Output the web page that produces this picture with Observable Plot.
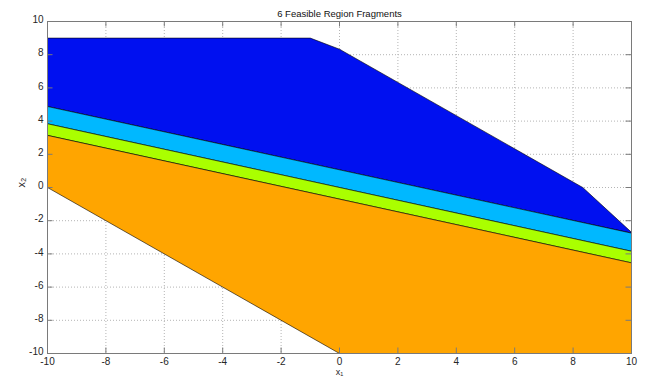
<!DOCTYPE html>
<html>
<head>
<meta charset="utf-8">
<script src="https://cdn.jsdelivr.net/npm/d3@7"></script>
<script src="https://cdn.jsdelivr.net/npm/@observablehq/plot@0.6"></script>
<style>
  html, body { margin: 0; padding: 0; background: #fff; }
  #chart svg { display: block; }
</style>
</head>
<body>
<div id="chart"></div>
<script>
// ---- data ----
const titleText = "6 Feasible Region Fragments";
const xTicks = [-10, -8, -6, -4, -2, 0, 2, 4, 6, 8, 10];
const yTicks = [-10, -8, -6, -4, -2, 0, 2, 4, 6, 8, 10];

// polygon vertices [x1, x2]
const regionBlue   = [[-10, 9], [-1, 9], [0, 8.33], [8.33, 0], [10, -2.7], [10, -2.75], [-10, 4.88], [-10, 9]];
const regionCyan   = [[-10, 4.88], [10, -2.75], [10, -3.84], [-10, 3.84], [-10, 4.88]];
const regionGreen  = [[-10, 3.84], [10, -3.84], [10, -4.54], [-10, 3.14], [-10, 3.84]];
const regionOrange = [[-10, 3.14], [10, -4.54], [10, -10], [0, -10], [-10, 0], [-10, 3.14]];

const regions = [regionBlue, regionCyan, regionGreen, regionOrange];
const regionColors = ["#0010f0", "#00b8ff", "#aaff00", "#ffa500"];

// ---- layout ----
const W = 655, H = 378;
const mL = 47, mR = 24, mT = 21, mB = 25;
const frameH = H - mT - mB, frameW = W - mL - mR;
const tickLen = 5.5;
const axisGray = "#7a7a7a";
const textColor = "#262626";

const marks = [
  Plot.gridX(xTicks, {stroke: "#b4b4b4", strokeOpacity: 1, strokeDasharray: "1,2", strokeWidth: 1}),
  Plot.gridY(yTicks, {stroke: "#b4b4b4", strokeOpacity: 1, strokeDasharray: "1,2", strokeWidth: 1}),
  ...regions.map((r, i) => Plot.line(r, {fill: regionColors[i], stroke: "#000", strokeWidth: 0.6, strokeLinejoin: "miter"})),
  // inward ticks on all four sides
  Plot.tickX(xTicks, {x: d => d, insetTop: frameH - tickLen, stroke: axisGray}),
  Plot.tickX(xTicks, {x: d => d, insetBottom: frameH - tickLen, stroke: axisGray}),
  Plot.tickY(yTicks, {y: d => d, insetRight: frameW - tickLen, stroke: axisGray}),
  Plot.tickY(yTicks, {y: d => d, insetLeft: frameW - tickLen, stroke: axisGray}),
  Plot.frame({stroke: axisGray, strokeWidth: 1}),
  Plot.axisX(xTicks, {tickSize: 0, tickPadding: 4, tickFormat: d => String(d), fill: textColor, fontSize: 10, label: null}),
  Plot.axisY(yTicks, {tickSize: 0, tickPadding: 4, dy: -1.5, tickFormat: d => String(d), fill: textColor, fontSize: 10, label: null}),
  Plot.text([titleText], {frameAnchor: "top", dy: -11, fill: "#111", fontSize: 9.5}),
  Plot.text(["x₁"], {frameAnchor: "bottom", dy: 19, lineAnchor: "middle", fill: textColor, fontSize: 9}),
  Plot.text(["x₂"], {frameAnchor: "left", dx: -26, rotate: -90, fill: textColor, fontSize: 11})
];

const chart = Plot.plot({
  width: W,
  height: H,
  marginLeft: mL,
  marginRight: mR,
  marginTop: mT,
  marginBottom: mB,
  x: {domain: [-10, 10]},
  y: {domain: [-10, 10]},
  style: {fontFamily: "'Liberation Sans', Arial, sans-serif", fontSize: "10px", background: "#fff", overflow: "visible"},
  marks
});
document.getElementById("chart").appendChild(chart);
</script>
</body>
</html>
